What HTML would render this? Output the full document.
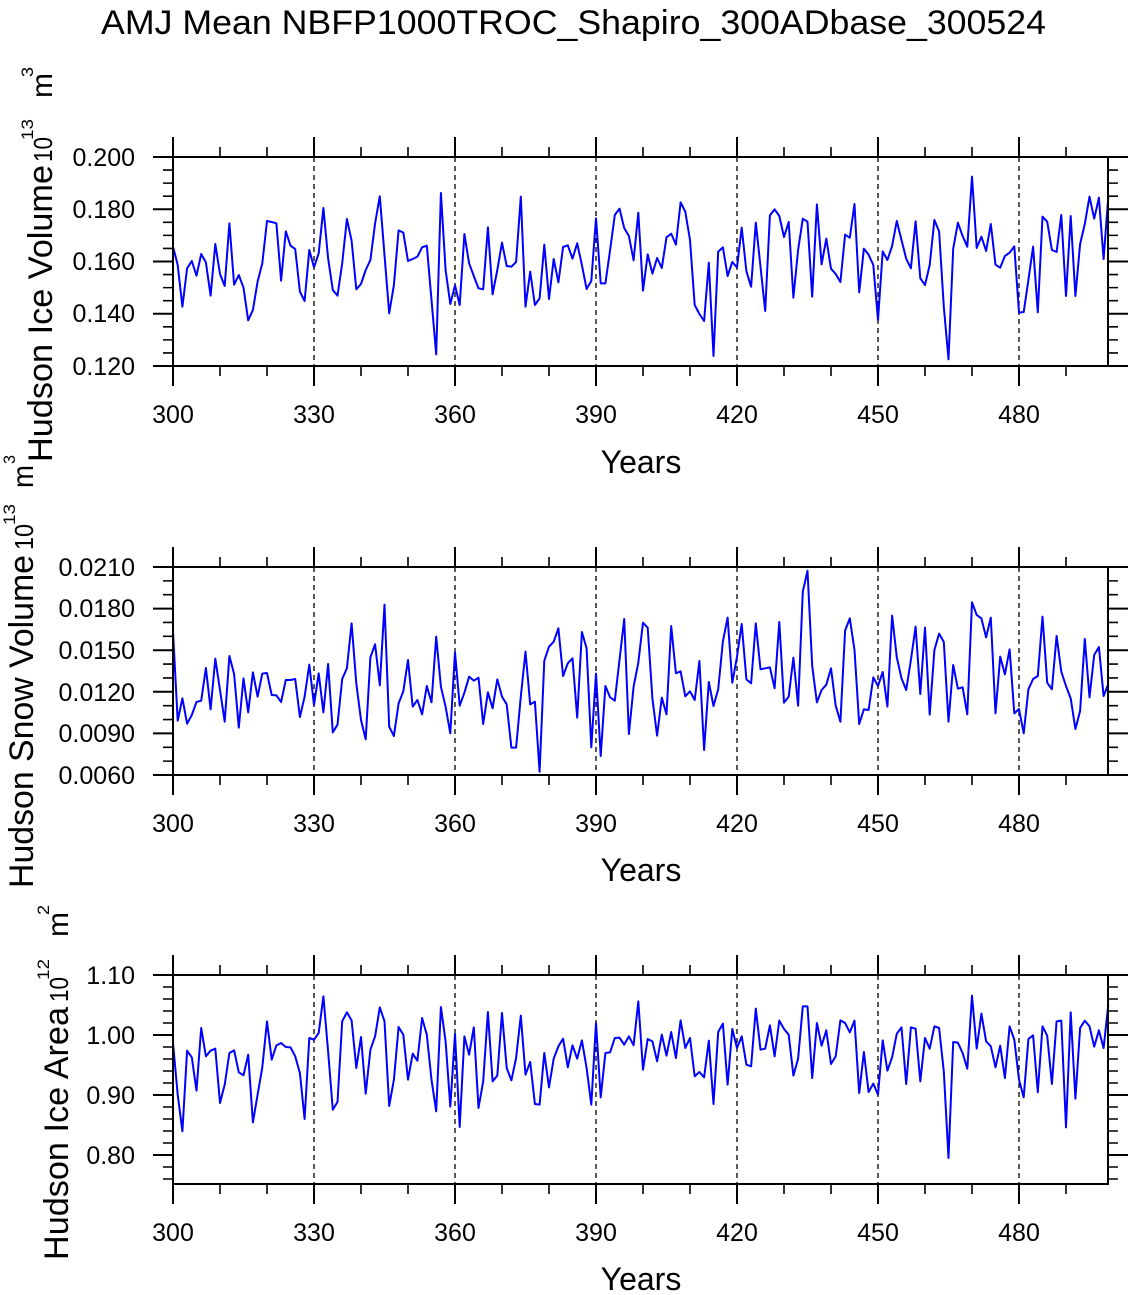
<!DOCTYPE html>
<html>
<head>
<meta charset="utf-8">
<style>
html,body{margin:0;padding:0;background:#fff;}
svg{display:block;}
text{font-family:"Liberation Sans",Arial,sans-serif;fill:#000;}
</style>
</head>
<body>
<svg width="1134" height="1295" viewBox="0 0 1134 1295" xmlns="http://www.w3.org/2000/svg">
<defs>
  <path id="xmaj" d="M173,0v20M314,0v20M455,0v20M596,0v20M737,0v20M878,0v20M1019,0v20" stroke="#000" stroke-width="2" fill="none"/>
  <path id="xmin" d="M220,0v10M267,0v10M361,0v10M408,0v10M502,0v10M549,0v10M643,0v10M690,0v10M784,0v10M831,0v10M925,0v10M972,0v10M1066,0v10" stroke="#000" stroke-width="1.6" fill="none"/>
  <path id="y1maj" d="M0,157h20M0,209.25h20M0,261.5h20M0,313.75h20M0,366h20" stroke="#000" stroke-width="2" fill="none"/>
  <path id="y1min" d="M0,170.06h10M0,183.13h10M0,196.19h10M0,222.31h10M0,235.38h10M0,248.44h10M0,274.56h10M0,287.63h10M0,300.69h10M0,326.81h10M0,339.88h10M0,352.94h10" stroke="#000" stroke-width="1.6" fill="none"/>
  <path id="y2maj" d="M0,567h20M0,608.6h20M0,650.2h20M0,691.8h20M0,733.4h20M0,775h20" stroke="#000" stroke-width="2" fill="none"/>
  <path id="y2min" d="M0,580.87h10M0,594.73h10M0,622.47h10M0,636.33h10M0,664.07h10M0,677.93h10M0,705.67h10M0,719.53h10M0,747.27h10M0,761.13h10" stroke="#000" stroke-width="1.6" fill="none"/>
  <path id="y3maj" d="M0,975h20M0,1035h20M0,1095h20M0,1155h20" stroke="#000" stroke-width="2" fill="none"/>
  <path id="y3min" d="M0,987h10M0,999h10M0,1011h10M0,1023h10M0,1047h10M0,1059h10M0,1071h10M0,1083h10M0,1107h10M0,1119h10M0,1131h10M0,1143h10M0,1167h10M0,1179h10" stroke="#000" stroke-width="1.6" fill="none"/>
</defs>

<rect x="0" y="0" width="1134" height="1295" fill="#fff"/>

<!-- Title -->
<text x="101" y="34" font-size="34" textLength="945" lengthAdjust="spacingAndGlyphs">AMJ Mean NBFP1000TROC_Shapiro_300ADbase_300524</text>

<!-- ================= PANEL 1 ================= -->
<g stroke="#000" stroke-width="1.3" stroke-dasharray="5,4" fill="none">
  <path d="M314,157V366M455,157V366M596,157V366M737,157V366M878,157V366M1019,157V366"/>
</g>
<polyline fill="none" stroke="#0000ff" stroke-width="2" stroke-linejoin="round" vector-effect="non-scaling-stroke" transform="matrix(4.7,0,0,0.333333,173,150)" points="0,290 1,345 2,470 3,355 4,333 5,377 6,312 7,337 8,437 9,282 10,372 11,408 12,220 13,404 14,375 15,413 16,511 17,480 18,395 19,340 20,213 21,216 22,220 23,392 24,244 25,287 26,297 27,425 28,453 29,300 30,352 31,310 32,174 33,325 34,420 35,437 36,340 37,207 38,272 39,418 40,402 41,360 42,330 43,220 44,139 45,315 46,490 47,405 48,241 49,248 50,333 51,327 52,320 53,292 54,287 55,450 56,613 57,129 58,360 59,462 60,406 61,465 62,252 63,340 64,378 65,415 66,418 67,232 68,433 69,360 70,278 71,348 72,350 73,336 74,140 75,470 76,365 77,465 78,445 79,284 80,447 81,327 82,397 83,291 84,286 85,326 86,280 87,345 88,417 89,393 90,205 91,400 92,400 93,300 94,195 95,176 96,234 97,258 98,331 99,188 100,422 101,313 102,371 103,324 104,354 105,262 106,251 107,284 108,157 109,185 110,270 111,465 112,492 113,513 114,338 115,618 116,305 117,292 118,378 119,336 120,352 121,233 122,364 123,410 124,218 125,350 126,483 127,196 128,178 129,198 130,261 131,216 132,443 133,300 134,206 135,215 136,440 137,163 138,343 139,266 140,356 141,372 142,396 143,254 144,263 145,162 146,427 147,296 148,314 149,345 150,510 151,304 152,330 153,288 154,213 155,270 156,326 157,355 158,214 159,385 160,405 161,345 162,210 163,244 164,470 165,628 166,296 167,218 168,258 169,290 170,80 171,294 172,260 173,303 174,222 175,344 176,353 177,318 178,308 179,289 180,488 181,486 182,390 183,290 184,487 185,200 186,215 187,300 188,306 189,195 190,438 191,198 192,438 193,282 194,222 195,140 196,206 197,143 198,327 199,140"/>
<rect x="173" y="157" width="935" height="209" fill="none" stroke="#000" stroke-width="2"/>
<use href="#xmaj" transform="translate(0,366)"/>
<use href="#xmin" transform="translate(0,366)"/>
<use href="#xmaj" transform="translate(0,157) scale(1,-1)"/>
<use href="#xmin" transform="translate(0,157) scale(1,-1)"/>
<use href="#y1maj" transform="translate(173,0) scale(-1,1)"/>
<use href="#y1min" transform="translate(173,0) scale(-1,1)"/>
<use href="#y1maj" transform="translate(1108,0)"/>
<use href="#y1min" transform="translate(1108,0)"/>
<g font-size="25" text-anchor="end">
  <text x="135" y="166">0.200</text>
  <text x="135" y="218">0.180</text>
  <text x="135" y="270">0.160</text>
  <text x="135" y="322">0.140</text>
  <text x="135" y="375">0.120</text>
</g>
<g font-size="25" text-anchor="middle">
  <text x="173" y="423">300</text>
  <text x="314" y="423">330</text>
  <text x="455" y="423">360</text>
  <text x="596" y="423">390</text>
  <text x="737" y="423">420</text>
  <text x="878" y="423">450</text>
  <text x="1019" y="423">480</text>
</g>
<text x="641" y="473" font-size="32" text-anchor="middle">Years</text>
<!-- Y label 1 -->
<text transform="translate(52,462) rotate(-90)" font-size="34" textLength="297" lengthAdjust="spacingAndGlyphs">Hudson Ice Volume</text>
<text transform="translate(52,162) rotate(-90)" font-size="26" textLength="25" lengthAdjust="spacingAndGlyphs">10</text>
<text transform="translate(33,140) rotate(-90)" font-size="17" textLength="21" lengthAdjust="spacingAndGlyphs">13</text>
<text transform="translate(52,98) rotate(-90)" font-size="30" textLength="25" lengthAdjust="spacingAndGlyphs">m</text>
<text transform="translate(33,77) rotate(-90)" font-size="17" textLength="10" lengthAdjust="spacingAndGlyphs">3</text>

<!-- ================= PANEL 2 ================= -->
<g stroke="#000" stroke-width="1.3" stroke-dasharray="5,4" fill="none">
  <path d="M314,567V775M455,567V775M596,567V775M737,567V775M878,567V775M1019,567V775"/>
</g>
<polyline fill="none" stroke="#0000ff" stroke-width="2" stroke-linejoin="round" vector-effect="non-scaling-stroke" transform="matrix(4.7,0,0,0.333333,173,560)" points="0,215 1,482 2,415 3,491 4,465 5,426 6,422 7,324 8,448 9,296 10,390 11,485 12,288 13,342 14,503 15,355 16,457 17,337 18,410 19,341 20,339 21,405 22,406 23,426 24,360 25,360 26,357 27,471 28,410 29,314 30,435 31,340 32,457 33,312 34,517 35,494 36,357 37,325 38,190 39,370 40,480 41,538 42,292 43,253 44,376 45,134 46,500 47,528 48,430 49,394 50,300 51,440 52,420 53,463 54,378 55,427 56,230 57,380 58,440 59,520 60,277 61,437 62,398 63,350 64,362 65,353 66,492 67,397 68,445 69,358 70,410 71,433 72,563 73,563 74,410 75,275 76,433 77,425 78,635 79,302 80,260 81,245 82,205 83,348 84,310 85,295 86,473 87,216 88,265 89,562 90,341 91,588 92,378 93,412 94,422 95,300 96,177 97,522 98,380 99,308 100,188 101,203 102,415 103,527 104,413 105,463 106,198 107,340 108,334 109,409 110,394 111,420 112,303 113,570 114,366 115,438 116,388 117,244 118,173 119,368 120,290 121,192 122,358 123,370 124,190 125,328 126,325 127,322 128,385 129,186 130,428 131,410 132,293 133,437 134,95 135,32 136,318 137,427 138,390 139,374 140,325 141,437 142,485 143,212 144,175 145,270 146,492 147,448 148,450 149,352 150,378 151,336 152,440 153,167 154,292 155,355 156,390 157,300 158,200 159,402 160,203 161,464 162,270 163,221 164,246 165,485 166,315 167,386 168,382 169,463 170,127 171,165 172,175 173,232 174,173 175,460 176,290 177,343 178,268 179,460 180,447 181,520 182,388 183,357 184,348 185,170 186,368 187,388 188,228 189,335 190,378 191,415 192,507 193,453 194,237 195,412 196,285 197,261 198,408 199,372"/>
<rect x="173" y="567" width="935" height="208" fill="none" stroke="#000" stroke-width="2"/>
<use href="#xmaj" transform="translate(0,775)"/>
<use href="#xmin" transform="translate(0,775)"/>
<use href="#xmaj" transform="translate(0,567) scale(1,-1)"/>
<use href="#xmin" transform="translate(0,567) scale(1,-1)"/>
<use href="#y2maj" transform="translate(173,0) scale(-1,1)"/>
<use href="#y2min" transform="translate(173,0) scale(-1,1)"/>
<use href="#y2maj" transform="translate(1108,0)"/>
<use href="#y2min" transform="translate(1108,0)"/>
<g font-size="25" text-anchor="end">
  <text x="135" y="576">0.0210</text>
  <text x="135" y="617">0.0180</text>
  <text x="135" y="659">0.0150</text>
  <text x="135" y="701">0.0120</text>
  <text x="135" y="742">0.0090</text>
  <text x="135" y="784">0.0060</text>
</g>
<g font-size="25" text-anchor="middle">
  <text x="173" y="832">300</text>
  <text x="314" y="832">330</text>
  <text x="455" y="832">360</text>
  <text x="596" y="832">390</text>
  <text x="737" y="832">420</text>
  <text x="878" y="832">450</text>
  <text x="1019" y="832">480</text>
</g>
<text x="641" y="881" font-size="32" text-anchor="middle">Years</text>
<!-- Y label 2 -->
<text transform="translate(33,888) rotate(-90)" font-size="34" textLength="333" lengthAdjust="spacingAndGlyphs">Hudson Snow Volume</text>
<text transform="translate(33,550) rotate(-90)" font-size="26" textLength="26" lengthAdjust="spacingAndGlyphs">10</text>
<text transform="translate(15,525) rotate(-90)" font-size="17" textLength="21" lengthAdjust="spacingAndGlyphs">13</text>
<text transform="translate(33,488) rotate(-90)" font-size="30" textLength="23" lengthAdjust="spacingAndGlyphs">m</text>
<text transform="translate(15,464) rotate(-90)" font-size="17" textLength="9" lengthAdjust="spacingAndGlyphs">3</text>

<!-- ================= PANEL 3 ================= -->
<g stroke="#000" stroke-width="1.3" stroke-dasharray="5,4" fill="none">
  <path d="M314,975V1184M455,975V1184M596,975V1184M737,975V1184M878,975V1184M1019,975V1184"/>
</g>
<polyline fill="none" stroke="#0000ff" stroke-width="2" stroke-linejoin="round" vector-effect="non-scaling-stroke" transform="matrix(4.7,0,0,0.333333,173,968)" points="0,225 1,380 2,490 3,248 4,268 5,368 6,180 7,265 8,248 9,242 10,405 11,350 12,255 13,247 14,313 15,322 16,260 17,463 18,380 19,298 20,160 21,275 22,232 23,225 24,237 25,238 26,265 27,315 28,453 29,210 30,215 31,195 32,85 33,250 34,425 35,402 36,160 37,133 38,157 39,300 40,207 41,377 42,245 43,205 44,118 45,160 46,414 47,335 48,177 49,200 50,335 51,257 52,278 53,150 54,200 55,335 56,430 57,117 58,220 59,416 60,198 61,477 62,205 63,260 64,178 65,420 66,340 67,132 68,340 69,323 70,135 71,300 72,337 73,270 74,143 75,320 76,282 77,408 78,410 79,255 80,358 81,272 82,235 83,212 84,298 85,232 86,272 87,217 88,300 89,410 90,165 91,388 92,255 93,253 94,210 95,209 96,230 97,205 98,232 99,100 100,305 101,213 102,220 103,280 104,200 105,263 106,192 107,270 108,157 109,240 110,210 111,325 112,312 113,328 114,218 115,408 116,192 117,167 118,350 119,183 120,240 121,205 122,290 123,295 124,122 125,245 126,242 127,172 128,265 129,158 130,183 131,200 132,323 133,272 134,115 135,115 136,330 137,165 138,233 139,187 140,288 141,265 142,157 143,165 144,193 145,158 146,375 147,252 148,372 149,347 150,380 151,217 152,308 153,268 154,197 155,178 156,348 157,178 158,182 159,340 160,210 161,242 162,175 163,180 164,310 165,570 166,222 167,224 168,255 169,302 170,83 171,242 172,137 173,220 174,235 175,298 176,233 177,330 178,175 179,215 180,335 181,388 182,213 183,202 184,373 185,175 186,203 187,348 188,160 189,158 190,478 191,133 192,392 193,180 194,158 195,175 196,236 197,187 198,240 199,110"/>
<rect x="173" y="975" width="935" height="209" fill="none" stroke="#000" stroke-width="2"/>
<use href="#xmaj" transform="translate(0,1184)"/>
<use href="#xmin" transform="translate(0,1184)"/>
<use href="#xmaj" transform="translate(0,975) scale(1,-1)"/>
<use href="#xmin" transform="translate(0,975) scale(1,-1)"/>
<use href="#y3maj" transform="translate(173,0) scale(-1,1)"/>
<use href="#y3min" transform="translate(173,0) scale(-1,1)"/>
<use href="#y3maj" transform="translate(1108,0)"/>
<use href="#y3min" transform="translate(1108,0)"/>
<g font-size="25" text-anchor="end">
  <text x="135" y="984">1.10</text>
  <text x="135" y="1044">1.00</text>
  <text x="135" y="1104">0.90</text>
  <text x="135" y="1164">0.80</text>
</g>
<g font-size="25" text-anchor="middle">
  <text x="173" y="1241">300</text>
  <text x="314" y="1241">330</text>
  <text x="455" y="1241">360</text>
  <text x="596" y="1241">390</text>
  <text x="737" y="1241">420</text>
  <text x="878" y="1241">450</text>
  <text x="1019" y="1241">480</text>
</g>
<text x="641" y="1290" font-size="32" text-anchor="middle">Years</text>
<!-- Y label 3 -->
<text transform="translate(68,1260) rotate(-90)" font-size="34" textLength="253" lengthAdjust="spacingAndGlyphs">Hudson Ice Area</text>
<text transform="translate(68,1002) rotate(-90)" font-size="26" textLength="25" lengthAdjust="spacingAndGlyphs">10</text>
<text transform="translate(49,980) rotate(-90)" font-size="17" textLength="21" lengthAdjust="spacingAndGlyphs">12</text>
<text transform="translate(68,937) rotate(-90)" font-size="30" textLength="25" lengthAdjust="spacingAndGlyphs">m</text>
<text transform="translate(49,915) rotate(-90)" font-size="17" textLength="10" lengthAdjust="spacingAndGlyphs">2</text>
</svg>
</body>
</html>
